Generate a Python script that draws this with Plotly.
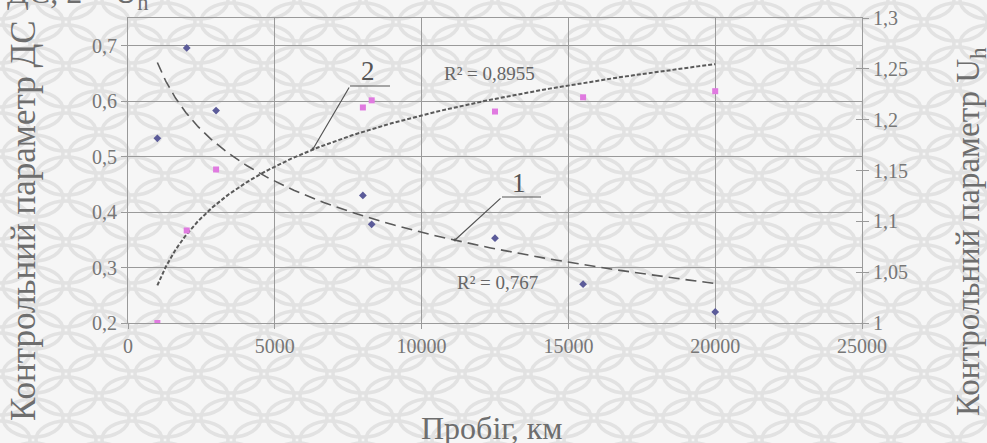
import base64
import numpy as np
import plotly.graph_objects as go

# ---- data ----
mileage = [1000, 2000, 3000, 8000, 8300, 12500, 15500, 20000]
param_ds = [0.533, 0.696, 0.583, 0.430, 0.378, 0.353, 0.270, 0.220]   # series 1, left axis
param_uh = [1.000, 1.091, 1.151, 1.212, 1.219, 1.208, 1.222, 1.228]   # series 2, right axis

x_ticks = [0, 5000, 10000, 15000, 20000, 25000]
x_ticktext = ["0", "5000", "10000", "15000", "20000", "25000"]
y1_ticks = [0.2, 0.3, 0.4, 0.5, 0.6, 0.7]
y1_ticktext = ["0,2", "0,3", "0,4", "0,5", "0,6", "0,7"]
y2_ticks = [1.0, 1.05, 1.1, 1.15, 1.2, 1.25, 1.3]
y2_ticktext = ["1", "1,05", "1,1", "1,15", "1,2", "1,25", "1,3"]

r2_1 = "R² = 0,767"
r2_2 = "R² = 0,8955"

# ---- logarithmic trendlines (least squares on ln x, like the spreadsheet) ----
lx = np.log(np.array(mileage, dtype=float))
k1, b1 = np.polyfit(lx, np.array(param_ds), 1)
k2, b2 = np.polyfit(lx, np.array(param_uh), 1)
xt = np.geomspace(min(mileage), max(mileage), 200)
t1 = k1 * np.log(xt) + b1
t2 = k2 * np.log(xt) + b2

W, H = 987, 443
L, R, T, B = 128, 125, 18, 120
PW, PH = W - L - R, H - T - B

# ---- textured background (light lattice) ----
svg = f'''<svg xmlns="http://www.w3.org/2000/svg" width="{W}" height="{H}">
<defs><pattern id="p" width="66" height="44" patternUnits="userSpaceOnUse">
<rect width="66" height="44" fill="#f6f6f6"/>
<g fill="none" stroke="#e2e2e2" stroke-width="3.5">
<ellipse cx="0" cy="0" rx="30" ry="19"/><ellipse cx="66" cy="0" rx="30" ry="19"/>
<ellipse cx="0" cy="44" rx="30" ry="19"/><ellipse cx="66" cy="44" rx="30" ry="19"/>
<ellipse cx="33" cy="22" rx="30" ry="19"/>
</g></pattern></defs>
<rect width="{W}" height="{H}" fill="url(#p)"/></svg>'''
bg_uri = "data:image/svg+xml;base64," + base64.b64encode(svg.encode()).decode()

fig = go.Figure()

fig.add_trace(go.Scatter(x=xt, y=t1, mode="lines", yaxis="y",
                         line=dict(color="#5a5a5a", width=1.6, dash="11px,6px"),
                         hoverinfo="skip", showlegend=False))
fig.add_trace(go.Scatter(x=xt, y=t2, mode="lines", yaxis="y2",
                         line=dict(color="#5a5a5a", width=2, dash="4px,2px"),
                         hoverinfo="skip", showlegend=False))
fig.add_trace(go.Scatter(x=mileage, y=param_ds, mode="markers", yaxis="y",
                         marker=dict(symbol="diamond", size=6, color="#5b5b99"),
                         showlegend=False))
fig.add_trace(go.Scatter(x=mileage, y=param_uh, mode="markers", yaxis="y2",
                         marker=dict(symbol="square", size=6, color="#e07ae0"),
                         showlegend=False))
# dummy trace to activate yaxis3 (inside ticks on the right axis)
fig.add_trace(go.Scatter(x=[None], y=[None], yaxis="y3", showlegend=False,
                         hoverinfo="skip"))

serif = "Liberation Serif"
gray = "#777777"
grid = "#9a9a9a"

fig.update_layout(
    width=W, height=H, autosize=False,
    margin=dict(l=L, r=R, t=T, b=B),
    paper_bgcolor="#f6f6f6",
    plot_bgcolor="rgba(0,0,0,0)",
    font=dict(family=serif, color=gray, size=20),
    images=[dict(source=bg_uri, xref="paper", yref="paper",
                 x=-L / PW, y=1 + T / PH, sizex=W / PW, sizey=H / PH,
                 xanchor="left", yanchor="top", sizing="stretch", layer="below")],
    xaxis=dict(range=[0, 25000], tickvals=x_ticks, ticktext=x_ticktext,
               showgrid=True, gridcolor=grid, gridwidth=1, zeroline=False,
               showline=True, linecolor=grid, linewidth=1, mirror=True,
               ticks="outside", ticklen=5, tickcolor=grid, automargin=False,
               tickfont=dict(size=20, color=gray, family=serif)),
    yaxis=dict(range=[0.2, 0.75], tickvals=y1_ticks, ticktext=y1_ticktext,
               showgrid=True, gridcolor=grid, gridwidth=1, zeroline=False,
               showline=True, linecolor=grid, linewidth=1, automargin=False,
               ticks="outside", ticklen=6, tickcolor=grid,
               tickfont=dict(size=20, color=gray, family=serif)),
    yaxis2=dict(range=[1.0, 1.3], tickvals=y2_ticks, ticktext=y2_ticktext,
                overlaying="y", side="right", anchor="x", automargin=False,
                showgrid=False, zeroline=False,
                showline=True, linecolor=grid, linewidth=1,
                ticks="outside", ticklen=6, tickcolor=grid,
                tickfont=dict(size=20, color=gray, family=serif)),
    yaxis3=dict(range=[1.0, 1.3], tickvals=y2_ticks, overlaying="y", side="right",
                anchor="x", showgrid=False, zeroline=False, showline=False,
                automargin=False,
                ticks="inside", ticklen=6, tickcolor=grid, showticklabels=False),
)

def px(xp):
    return (xp - L) / PW

def py(yp):
    return (T + PH - yp) / PH

def label(text, xp, yp, size, color="#6e6e6e", angle=0, xa="center", ya="middle"):
    return dict(text=text, xref="paper", yref="paper", x=px(xp), y=py(yp),
                xanchor=xa, yanchor=ya, textangle=angle, showarrow=False,
                font=dict(size=size, color=color, family=serif))

ann = [
    label("Контрольний параметр ДС", 24, 221, 35, angle=-90),
    label("Контрольний параметр U<sub>h</sub>", 971, 232, 33, angle=-90),
    label("Пробіг, км", 492, 428, 32),
    label("1 – ДС, 2 – U<sub>h</sub>", 150, 17, 32, xa="right", ya="bottom"),
    label(r2_2, 489, 73, 19, color="#666666"),
    label(r2_1, 497, 282, 19, color="#666666"),
    label("2", 368, 71, 27, color="#555555"),
    label("1", 519, 183, 27, color="#555555"),
]
# leader lines (diagonal part with a dot at the curve)
for (x0, y0, dx, dy) in [(313, 149, 37, -63), (455, 240, 47, -43)]:
    ann.append(dict(text="", xref="paper", yref="paper", x=px(x0), y=py(y0),
                    axref="pixel", ayref="pixel", ax=dx, ay=dy, showarrow=True,
                    arrowhead=6, arrowsize=0.6, arrowwidth=1.2, arrowcolor="#555555",
                    standoff=0, startstandoff=0))
fig.update_layout(annotations=ann)

shapes = [
    dict(type="line", xref="paper", yref="paper", x0=px(350), y0=py(86),
         x1=px(390), y1=py(86), line=dict(color="#555555", width=1.2)),
    dict(type="line", xref="paper", yref="paper", x0=px(502), y0=py(197),
         x1=px(541), y1=py(197), line=dict(color="#555555", width=1.2)),
]
fig.update_layout(shapes=shapes)

fig.write_html("out.html", config={"displayModeBar": False},
               post_script="document.body.style.margin='0px';document.body.style.overflow='hidden';")
